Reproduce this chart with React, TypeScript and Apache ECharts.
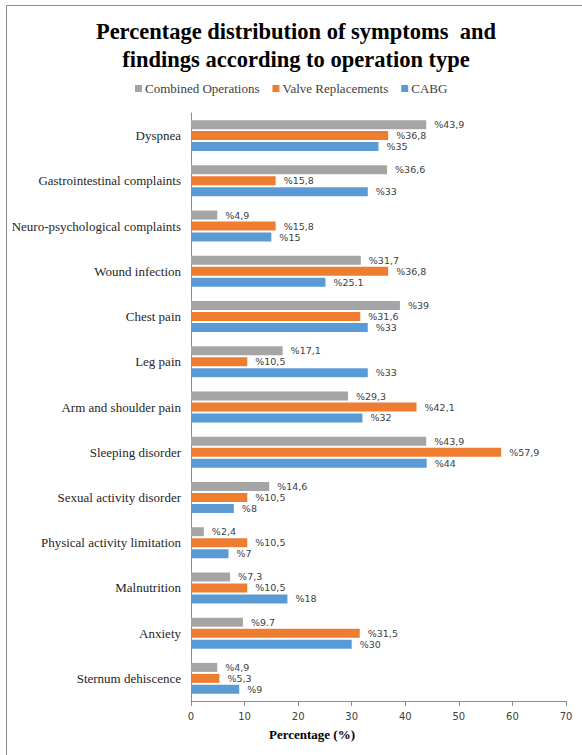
import React, { useEffect, useRef } from "react";
import * as echarts from "echarts";

const categories = [
  "Dyspnea",
  "Gastrointestinal complaints",
  "Neuro-psychological complaints",
  "Wound infection",
  "Chest pain",
  "Leg pain",
  "Arm and shoulder pain",
  "Sleeping disorder",
  "Sexual activity disorder",
  "Physical activity limitation",
  "Malnutrition",
  "Anxiety",
  "Sternum dehiscence",
];

const combinedValues = [43.9, 36.6, 4.9, 31.7, 39, 17.1, 29.3, 43.9, 14.6, 2.4, 7.3, 9.7, 4.9];
const valveValues = [36.8, 15.8, 15.8, 36.8, 31.6, 10.5, 42.1, 57.9, 10.5, 10.5, 10.5, 31.5, 5.3];
const cabgValues = [35, 33, 15, 25.1, 33, 33, 32, 44, 8, 7, 18, 30, 9];

const combinedLabels = ["%43,9", "%36,6", "%4,9", "%31,7", "%39", "%17,1", "%29,3", "%43,9", "%14,6", "%2,4", "%7,3", "%9.7", "%4,9"];
const valveLabels = ["%36,8", "%15,8", "%15,8", "%36,8", "%31,6", "%10,5", "%42,1", "%57,9", "%10,5", "%10,5", "%10,5", "%31,5", "%5,3"];
const cabgLabels = ["%35", "%33", "%15", "%25.1", "%33", "%33", "%32", "%44", "%8", "%7", "%18", "%30", "%9"];

const seriesNames = ["Combined Operations", "Valve Replacements", "CABG"];
const xTicks = [0, 10, 20, 30, 40, 50, 60, 70];
const xAxisTitle = "Percentage (%)";
const chartTitle = "Percentage distribution of symptoms  and\nfindings according to operation type";

const colors = ["#A5A5A5", "#ED7D31", "#5B9BD5"];

export default function App() {
  const ref = useRef<HTMLDivElement>(null);

  useEffect(() => {
    if (!ref.current) return;
    const chart = echarts.init(ref.current, null, { renderer: "svg" });
    const valueSets = [combinedValues, valveValues, cabgValues];
    const labelSets = [combinedLabels, valveLabels, cabgLabels];
    const serif = "'Liberation Serif', 'Times New Roman', serif";
    const sans = "'DejaVu Sans', Verdana, sans-serif";

    chart.setOption({
      animation: false,
      backgroundColor: "#ffffff",
      color: colors,
      legend: {
        top: 77,
        left: 130,
        itemWidth: 7,
        itemHeight: 7,
        itemGap: 13,
        icon: "rect",
        data: seriesNames,
        textStyle: {
          fontFamily: serif,
          fontSize: 13,
          color: "#404040",
          padding: [0, 0, 0, -2],
        },
      },
      graphic: [
        {
          type: "rect",
          shape: { x: 6.5, y: 5.5, width: 700, height: 900 },
          style: { fill: "none", stroke: "#8c8c8c", lineWidth: 1 },
          silent: true,
        },
        {
          type: "text",
          x: 296,
          y: 45,
          style: {
            text: chartTitle,
            fontFamily: serif,
            fontWeight: "bold",
            fontSize: 22.5,
            lineHeight: 28,
            fill: "#000000",
            align: "center",
            verticalAlign: "middle",
          },
          silent: true,
        },
        {
          type: "text",
          x: 312,
          y: 734,
          style: {
            text: xAxisTitle,
            fontFamily: serif,
            fontWeight: "bold",
            fontSize: 13,
            fill: "#000000",
            align: "center",
            verticalAlign: "middle",
          },
          silent: true,
        },
      ],
      grid: {
        left: 191,
        right: 16,
        top: 113,
        bottom: 54,
        containLabel: false,
      },
      xAxis: {
        type: "value",
        min: xTicks[0],
        max: xTicks[xTicks.length - 1],
        interval: 10,
        axisLine: { show: true, lineStyle: { color: "#8c8c8c", width: 1 } },
        axisTick: { show: true, length: 5, lineStyle: { color: "#8c8c8c" } },
        axisLabel: {
          fontFamily: sans,
          fontSize: 10,
          color: "#404040",
          margin: 10,
        },
        splitLine: { show: false },
      },
      yAxis: {
        type: "category",
        data: categories,
        inverse: true,
        axisLine: { show: true, lineStyle: { color: "#8c8c8c", width: 1 } },
        axisTick: { show: false },
        axisLabel: {
          fontFamily: serif,
          fontSize: 13,
          color: "#262626",
          margin: 10,
        },
      },
      series: seriesNames.map((name, i) => ({
        name,
        type: "bar",
        data: valueSets[i],
        barWidth: 9,
        barGap: "22%",
        itemStyle: { color: colors[i] },
        label: {
          show: true,
          position: "right",
          distance: 8,
          fontFamily: sans,
          fontSize: 9.5,
          color: "#404040",
          formatter: (p: any) => labelSets[i][p.dataIndex],
        },
      })),
    });

    return () => chart.dispose();
  }, []);

  return (
    <div
      ref={ref}
      style={{ position: "absolute", left: 0, top: 0, width: 582, height: 755 }}
    />
  );
}
